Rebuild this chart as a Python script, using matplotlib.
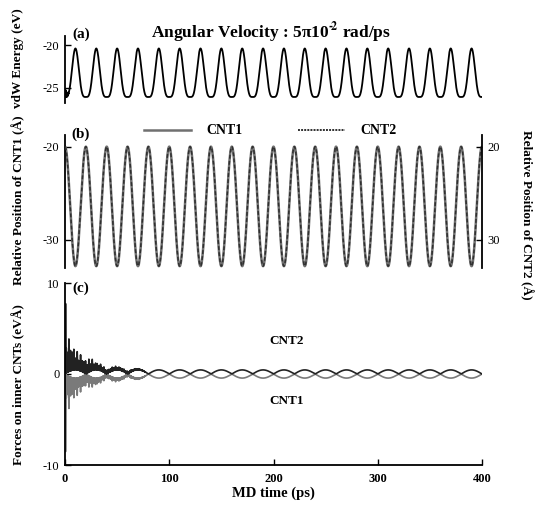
import numpy as np
import matplotlib
matplotlib.use("Agg")
import matplotlib.pyplot as plt

plt.rcParams['font.family'] = ['Liberation Serif', 'DejaVu Serif']
plt.rcParams['mathtext.fontset'] = 'stix'
plt.rcParams['mathtext.default'] = 'bf'
plt.rcParams['axes.unicode_minus'] = False

# ---------------- values ----------------
t_max = 400                      # ps
x_ticks = [0, 100, 200, 300, 400]

# (a) vdW energy: peak every 20 ps, first peak at 10 ps
vdw_period = 20.0
vdw_first_peak = 10.0
vdw_peak = -20.4
vdw_trough = -26.05
vdw_noise_t = [0, 1, 2, 3, 4]
vdw_noise_amp = [0.9, 0.7, 0.4, 0.15, 0.0]

# (b) relative positions: CNT1 max -20 at t=0, min about -32.8
pos_period = 20.0
cnt1_top, cnt1_bottom = -20.0, -32.8
cnt2_top, cnt2_bottom = 20.0, 32.8

# (c) forces: slow lozenge amplitude and decaying transient envelopes
force_period = 40.0
force_amp = 0.45
env_t = [0, 0.5, 1, 2, 3, 4, 5, 6, 7, 8, 10, 12, 14, 16, 18, 20, 22, 24,
         26, 28, 30, 35, 40, 50, 60, 70, 80]
env_cnt2 = [2.0, 7.7, 5.5, 3.0, 3.5, 4.1, 3.6, 2.5, 2.8, 2.7, 2.2, 2.0, 1.8,
            2.0, 1.6, 1.7, 1.5, 1.4, 1.3, 1.0, 0.9, 0.7, 0.5, 0.4, 0.3, 0.15, 0.0]
env_cnt1 = [2.0, 8.5, 5.0, 3.0, 3.5, 4.0, 3.2, 2.6, 2.5, 2.6, 2.0, 1.9, 1.7,
            1.8, 1.5, 1.5, 1.3, 1.2, 1.1, 1.0, 0.8, 0.6, 0.5, 0.4, 0.3, 0.15, 0.0]

# ---------------- build traces ----------------
t = np.linspace(0, t_max, 16001)

phase = 2 * np.pi * (t - vdw_first_peak) / vdw_period
shape = ((1 + np.cos(phase)) / 2) ** 2
vdw = vdw_trough + (vdw_peak - vdw_trough) * shape
vdw += np.interp(t, vdw_noise_t, vdw_noise_amp) * 0.5 * (1 + np.cos(2 * np.pi * t / 0.35))

pos_mid1 = (cnt1_top + cnt1_bottom) / 2
pos_amp1 = (cnt1_top - cnt1_bottom) / 2
cnt1_pos = pos_mid1 + pos_amp1 * np.cos(2 * np.pi * t / pos_period)
pos_mid2 = (cnt2_top + cnt2_bottom) / 2
pos_amp2 = (cnt2_bottom - cnt2_top) / 2
cnt2_pos = pos_mid2 - pos_amp2 * np.cos(2 * np.pi * t / pos_period)

slow = force_amp * np.abs(np.sin(2 * np.pi * t / force_period))
spikes = (0.5 * (1 + np.cos(2 * np.pi * (t - 0.5) / 1.6))) ** 3
spikes *= 0.75 + 0.25 * np.cos(2 * np.pi * (t - 0.5) / 3.7)
fill = 0.55 * 0.5 * (1 + np.cos(2 * np.pi * t / 0.3))
fast = np.maximum(spikes, fill)
cnt2_force = slow + np.interp(t, env_t, env_cnt2) * fast
cnt1_force = -slow - np.interp(t, env_t, env_cnt1) * fast

# ---------------- figure ----------------
W, H = 536, 505
fig = plt.figure(figsize=(W / 100, H / 100), dpi=100)


def box(x0, y0, x1, y1):
    return [x0 / W, 1 - y1 / H, (x1 - x0) / W, (y1 - y0) / H]


def style(ax, bottom=False):
    for s in ['top', 'right']:
        ax.spines[s].set_visible(False)
    ax.spines['bottom'].set_visible(bottom)
    ax.spines['left'].set_linewidth(1.3)
    ax.tick_params(axis='y', direction='in', length=4, width=1, pad=4, labelsize=9)
    if not bottom:
        ax.set_xticks([])
    ax.set_xlim(0, t_max)


# (a)
ax1 = fig.add_axes(box(65, 36, 482, 103))
style(ax1)
ax1.plot(t, vdw, color='black', lw=1.3)
ax1.set_ylim(-26.75, -18.95)
ax1.set_yticks([-20, -25])

# (b)
ax2 = fig.add_axes(box(65, 135, 482, 268))
style(ax2)
ax2.set_ylim(-33.0, -18.75)
ax2.set_yticks([-20, -30])
l1, = ax2.plot(t, cnt1_pos, color='#707070', lw=1.8, label='CNT1')
ax2r = ax2.twinx()
ax2r.set_xlim(0, t_max)
for s in ['top', 'left', 'bottom']:
    ax2r.spines[s].set_visible(False)
ax2r.spines['right'].set_linewidth(1.3)
ax2r.set_ylim(33.0, 18.75)
ax2r.set_yticks([20, 30])
ax2r.tick_params(axis='y', direction='in', length=4, width=1, pad=4, labelsize=9)
l2, = ax2r.plot(t, cnt2_pos, color='#303030', lw=1.1, ls=(0, (2.5, 1.5)), label='CNT2')
h2 = plt.Line2D([], [], color='#303030', lw=1.4, ls=(0, (1, 0.6)))
leg = ax2.legend(handles=[l1, h2], labels=['CNT1', 'CNT2'], ncol=2, frameon=False,
                 loc='center', bbox_to_anchor=(270 / W, 1 - 131 / H),
                 bbox_transform=fig.transFigure,
                 handlelength=3.4, columnspacing=4.0, handletextpad=1.1,
                 prop={'weight': 'bold', 'size': 10})

# (c)
ax3 = fig.add_axes(box(65, 283, 482, 465))
style(ax3, bottom=True)
ax3.spines['bottom'].set_linewidth(1.3)
ax3.plot(t, cnt1_force, color='#7a7a7a', lw=1.2)
ax3.plot(t, cnt2_force, color='#222222', lw=1.2)
ax3.set_ylim(-10, 10)
ax3.set_yticks([-10, 0, 10])
ax3.set_xticks(x_ticks)
ax3.tick_params(axis='x', direction='in', length=4, width=1, pad=6, labelsize=9)
for lab in ax3.get_xticklabels():
    lab.set_fontweight('bold')
ax3.set_xlabel('MD time (ps)', fontsize=10.5, fontweight='bold', labelpad=1)
ax3.text(287 / W, 1 - 341 / H, 'CNT2', transform=fig.transFigure, ha='center',
         va='center', fontsize=9.5, fontweight='bold')
ax3.text(287 / W, 1 - 401 / H, 'CNT1', transform=fig.transFigure, ha='center',
         va='center', fontsize=9.5, fontweight='bold')

# panel tags, title, axis labels
for tag, y in [('(a)', 34), ('(b)', 134), ('(c)', 288)]:
    fig.text(81 / W, 1 - y / H, tag, ha='center', va='center', fontsize=11, fontweight='bold')
fig.text(271 / W, 1 - 33 / H, 'Angular Velocity : 5\u03c010$^{\u2010\\!2}$ rad/ps',
         ha='center', va='center', fontsize=12.5, fontweight='bold')
fig.text(18 / W, 1 - 58 / H, 'vdW Energy (eV)', rotation=90, ha='center', va='center',
         fontsize=9.5, fontweight='bold')
fig.text(18 / W, 1 - 200 / H, 'Relative Position of CNT1 (\u00c5)', rotation=90,
         ha='center', va='center', fontsize=9.5, fontweight='bold')
fig.text(18 / W, 1 - 385 / H, 'Forces on inner CNTs (eV\u00c5)', rotation=90,
         ha='center', va='center', fontsize=9.5, fontweight='bold')
fig.text(527 / W, 1 - 215 / H, 'Relative Position of CNT2 (\u00c5)', rotation=-90,
         ha='center', va='center', fontsize=9.5, fontweight='bold')

fig.savefig('out.png', dpi=100)
